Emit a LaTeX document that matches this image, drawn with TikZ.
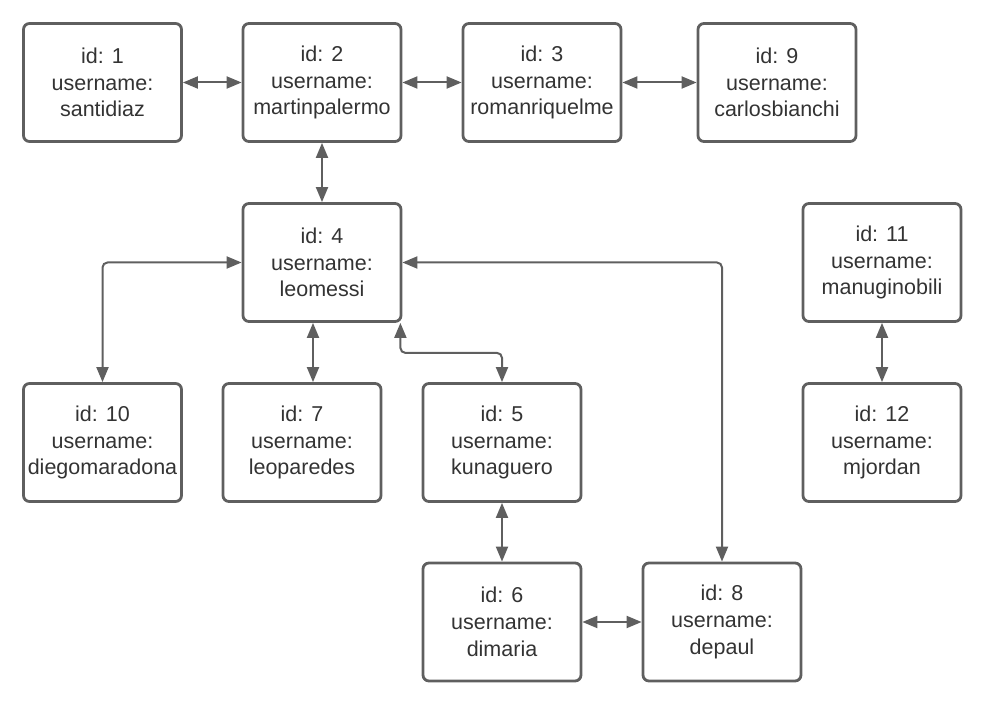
\documentclass[tikz,border=0pt]{standalone}
\usepackage{fontspec}
\setmainfont{Liberation Sans}
\usetikzlibrary{arrows.meta}
\definecolor{edgegray}{RGB}{95,95,95}
\definecolor{textgray}{RGB}{51,51,51}
\begin{document}
\begin{tikzpicture}[x=1pt,y=-1pt,
  userbox/.style={draw=edgegray, line width=2.8pt, rounded corners=6pt,
    minimum width=158pt, minimum height=118pt, align=center,
    text=textgray, font=\fontsize{21.5pt}{26.7pt}\selectfont, inner sep=0pt},
  link/.style={draw=edgegray, line width=2pt, rounded corners=5pt,
    {Triangle[length=15pt,width=12pt]}-{Triangle[length=15pt,width=12pt]}}]
\useasboundingbox (0,0) rectangle (983,703);

% users
\node[userbox] (n1)  at (102.5,82.5) {id: 1\\username:\\santidiaz};
\node[userbox] (n2)  at (322,82.5)   {id: 2\\username:\\martinpalermo};
\node[userbox] (n3)  at (542,82.5)   {id: 3\\username:\\romanriquelme};
\node[userbox] (n9)  at (777,82.5)   {id: 9\\username:\\carlosbianchi};
\node[userbox] (n4)  at (322,262.5)  {id: 4\\username:\\leomessi};
\node[userbox] (n11) at (882,262.5)  {id: 11\\username:\\manuginobili};
\node[userbox] (n10) at (102.5,442.5) {id: 10\\username:\\diegomaradona};
\node[userbox] (n7)  at (302,442.5)  {id: 7\\username:\\leoparedes};
\node[userbox] (n5)  at (502,442.5)  {id: 5\\username:\\kunaguero};
\node[userbox] (n12) at (882,442.5)  {id: 12\\username:\\mjordan};
\node[userbox] (n6)  at (502,622)    {id: 6\\username:\\dimaria};
\node[userbox] (n8)  at (722,622)    {id: 8\\username:\\depaul};

% friendships
\draw[link] (n1) -- (n2);
\draw[link] (n2) -- (n3);
\draw[link] (n3) -- (n9);
\draw[link] (n2) -- (n4);
\draw[link] (n4.west) -| (n10.north);
\draw[link] ([xshift=-9pt]n4.south) -- ([xshift=11pt]n7.north);
\draw[link] ([xshift=-2pt]n4.south east) -- ++(0,30) -| (n5.north);
\draw[link] (n4.east) -| (n8.north);
\draw[link] (n5) -- (n6);
\draw[link] (n6) -- (n8);
\draw[link] (n11) -- (n12);
\end{tikzpicture}
\end{document}
